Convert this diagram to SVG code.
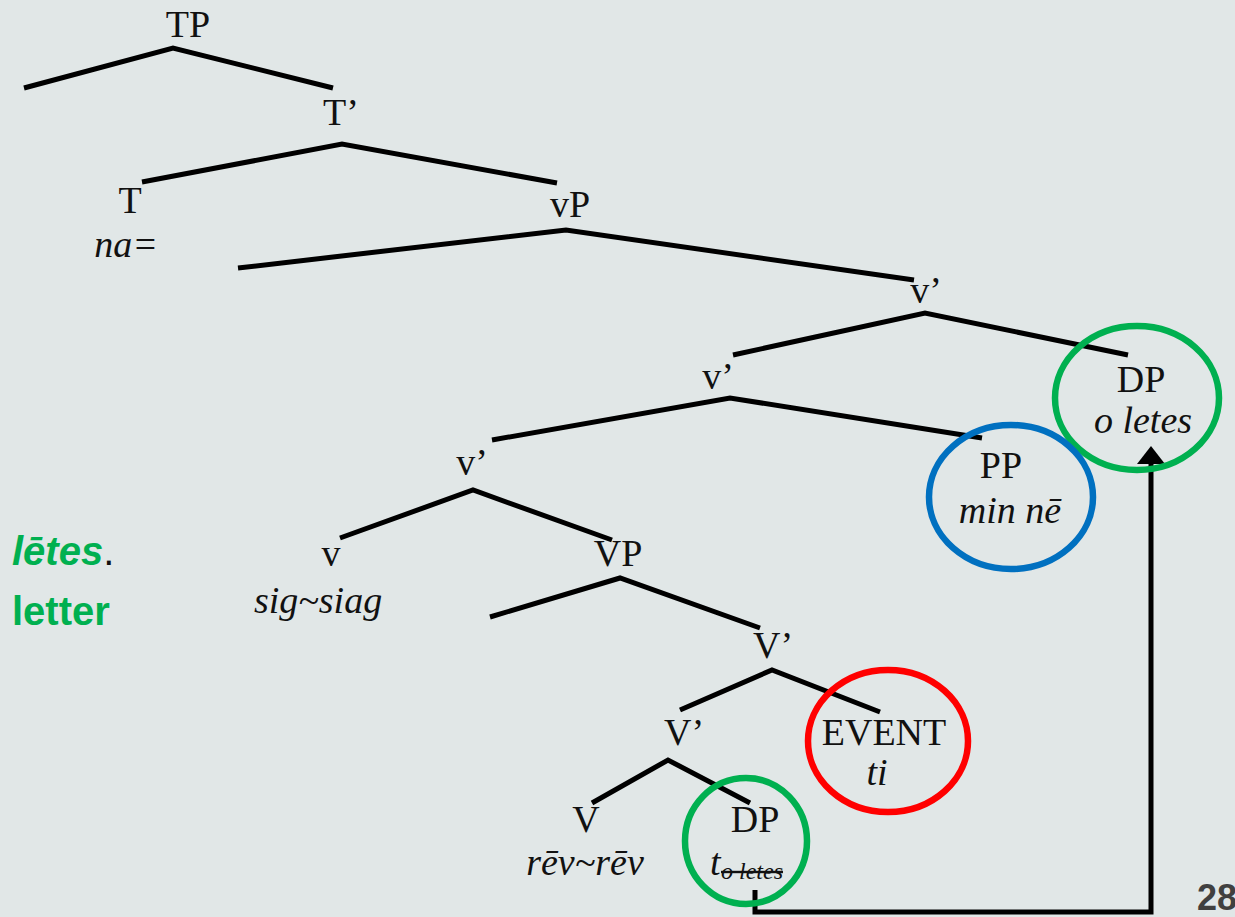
<svg xmlns="http://www.w3.org/2000/svg" width="1235" height="917" viewBox="0 0 1235 917">
  <style>
    .lab { font-family: "Liberation Serif", "Times New Roman", serif; font-size: 38px; fill: #111; text-anchor: middle; }
    .it { font-style: italic; }
    .edge { stroke: #000; stroke-width: 5; fill: none; stroke-linecap: butt; stroke-linejoin: miter; }
    .ring { fill: none; stroke-width: 6.5; }
    .gloss { font-family: "Liberation Sans", Arial, sans-serif; font-size: 40px; font-weight: bold; fill: #00b050; }
  </style>
  <rect width="1235" height="917" fill="#e1e7e7"/>

  <!-- branches -->
  <g id="connectors">
    <polyline class="edge" points="24,88 173,48 333,88"/>
    <polyline class="edge" points="142,182 342,144 557,183"/>
    <polyline class="edge" points="238,268 566,230 914,280"/>
    <polyline class="edge" points="733,355 925,313 1128,355"/>
    <polyline class="edge" points="492,440 730,398 982,438"/>
    <polyline class="edge" points="340,538 473,490 612,540"/>
    <polyline class="edge" points="490,617 620,578 760,628"/>
    <polyline class="edge" points="680,710 772,670 880,712"/>
    <polyline class="edge" points="592,803 668,760 750,803"/>
    <!-- movement path from the trace up to the moved DP -->
    <polyline class="edge" points="755,890 755,912 1151,912 1151,463"/>
    <path d="M1137,464 L1151,446 L1165,464 z" fill="#000"/>
  </g>

  <g id="TP"><text class="lab" x="188" y="37">TP</text></g>
  <g id="T-bar"><text class="lab" x="341" y="125">T’</text></g>
  <g id="T">
    <text class="lab" x="130" y="213">T</text>
    <text class="lab it" x="126" y="257">na=</text>
  </g>
  <g id="vP"><text class="lab" x="570" y="217">vP</text></g>
  <g id="v-bar-1"><text class="lab" x="926" y="303">v’</text></g>
  <g id="v-bar-2"><text class="lab" x="718" y="389">v’</text></g>
  <g id="DP-object">
    <ellipse class="ring" cx="1137" cy="398" rx="82" ry="72" stroke="#00b050"/>
    <text class="lab" x="1141" y="392">DP</text>
    <text class="lab it" x="1143" y="433">o letes</text>
  </g>
  <g id="v-bar-3"><text class="lab" x="472" y="475">v’</text></g>
  <g id="PP">
    <ellipse class="ring" cx="1011" cy="497" rx="82" ry="72" stroke="#0070c0"/>
    <text class="lab" x="1001" y="478">PP</text>
    <text class="lab it" x="1010" y="523">min nē</text>
  </g>
  <g id="v">
    <text class="lab" x="331" y="566">v</text>
    <text class="lab it" x="318" y="613">sig~siag</text>
  </g>
  <g id="VP"><text class="lab" x="618" y="566">VP</text></g>
  <g id="V-bar-1"><text class="lab" x="773" y="658">V’</text></g>
  <g id="EVENT">
    <ellipse class="ring" cx="888" cy="741" rx="80" ry="71" stroke="#ff0000"/>
    <text class="lab" x="884" y="745">EVENT</text>
    <text class="lab it" x="877" y="785">ti</text>
  </g>
  <g id="V-bar-2"><text class="lab" x="684" y="745">V’</text></g>
  <g id="V">
    <text class="lab" x="586" y="832">V</text>
    <text class="lab it" x="585" y="875">rēv~rēv</text>
  </g>
  <g id="DP-trace">
    <ellipse class="ring" cx="746" cy="841" rx="61" ry="63" stroke="#00b050"/>
    <text class="lab" x="755" y="832">DP</text>
    <text class="lab it" x="710" y="875" style="text-anchor:start">t</text>
    <text class="lab it" x="721" y="879" style="text-anchor:start;font-size:24px" text-decoration="line-through">o letes</text>
  </g>

  <g id="gloss">
    <text class="gloss" x="12" y="565"><tspan font-style="italic">lētes</tspan><tspan fill="#111" font-weight="normal">.</tspan></text>
    <text class="gloss" x="12" y="625">letter</text>
  </g>
  <g id="page-number">
    <text x="1197" y="910" style="font-family:'Liberation Sans', Arial, sans-serif;font-size:36px;font-weight:bold;fill:#404040">28</text>
  </g>
</svg>
